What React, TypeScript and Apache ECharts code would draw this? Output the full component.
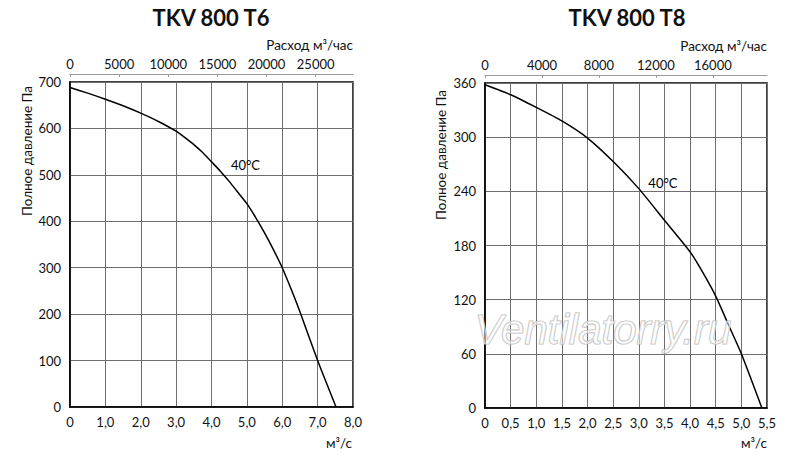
import { useEffect, useRef } from 'react';
import * as echarts from 'echarts';

// TKV 800 T6 (left) — flow m³/s vs total pressure Pa
const flowT6 = [0, 0.5, 1, 1.5, 2, 2.5, 3, 3.25, 3.5, 3.75, 4, 4.25, 4.5, 4.75, 5, 5.25, 5.5, 5.75, 6, 6.25, 6.5, 7, 7.52];
const pressT6 = [688, 676, 663, 649, 633, 615, 594, 580, 565, 548, 528, 508, 486, 462, 438, 408, 375, 339, 300, 254, 205, 100, 0];

// TKV 800 T8 (right)
const flowT8 = [0, 0.5, 1, 1.5, 2, 2.5, 3, 3.5, 4, 4.25, 4.5, 4.75, 5, 5.4];
const pressT8 = [358, 347, 333, 318, 299, 273, 243, 208, 173, 150, 124, 92, 60, 0];

const titles = ['TKV 800 T6', 'TKV 800 T8'];
const curveLabel = '40°C';
const labelT6: [number, number] = [4.96, 522];
const labelT8: [number, number] = [3.47, 249];

const FONT = 'Lato, "Open Sans", sans-serif';

const commaFmt = (v: number) => (v === 0 ? '0' : v.toFixed(1).replace('.', ','));

function zip(xs: number[], ys: number[]) {
  return xs.map((x, i) => [x, ys[i]]);
}

export default function App() {
  const ref = useRef<HTMLDivElement>(null);

  useEffect(() => {
    document.body.style.margin = '0';
    if (!ref.current) return;
    const chart = echarts.init(ref.current, undefined, { renderer: 'svg' });

    const gridLine = { lineStyle: { color: '#6e6e6e', width: 1 } };
    const tickText = { color: '#111', fontSize: 13, fontFamily: FONT };

    const bottomX = (gridIndex: number, max: number, interval: number) => ({
      type: 'value',
      gridIndex,
      position: 'bottom',
      min: 0,
      max,
      interval,
      axisLine: { lineStyle: { color: '#000', width: 1.5 } },
      axisTick: { show: false },
      axisLabel: { ...tickText, margin: 8, formatter: commaFmt },
      splitLine: { show: true, ...gridLine },
    });

    const topX = (gridIndex: number, max: number, interval: number) => ({
      type: 'value',
      gridIndex,
      position: 'top',
      offset: 8,
      min: 0,
      max,
      interval,
      axisLine: { show: true, lineStyle: { color: '#9a9a9a', width: 1 } },
      axisTick: { show: true, inside: true, length: 3, lineStyle: { color: '#9a9a9a' } },
      axisLabel: { ...tickText, margin: 4, showMaxLabel: false, formatter: (v: number) => String(v) },
      splitLine: { show: false },
    });

    const leftY = (gridIndex: number, max: number, interval: number) => ({
      type: 'value',
      gridIndex,
      min: 0,
      max,
      interval,
      axisLine: { show: true, lineStyle: { color: '#000', width: 1.5 } },
      axisTick: { show: false },
      axisLabel: { ...tickText, margin: 9 },
      splitLine: { show: true, ...gridLine },
    });

    const curve = (xAxisIndex: number, yAxisIndex: number, data: number[][], at: [number, number]) => ({
      type: 'line',
      xAxisIndex,
      yAxisIndex,
      data,
      smooth: 0.2,
      symbol: 'none',
      lineStyle: { color: '#000', width: 1.5 },
      markPoint: {
        symbol: 'circle',
        symbolSize: 1,
        itemStyle: { color: 'transparent' },
        label: {
          show: true,
          position: 'inside',
          formatter: curveLabel,
          color: '#000',
          fontSize: 13,
          fontFamily: FONT,
        },
        data: [{ coord: at }],
      },
    });

    const text = (x: number, y: number, t: string, extra: Record<string, unknown> = {}) => ({
      type: 'text',
      x,
      y,
      style: {
        text: t,
        fill: '#111',
        font: `13.5px ${FONT}`,
        align: 'center',
        verticalAlign: 'middle',
        ...extra,
      },
    });

    const vname = (x: number, y: number) => ({
      type: 'text',
      x,
      y,
      rotation: Math.PI / 2,
      style: { text: 'Полное давление Па', fill: '#111', font: `13.5px ${FONT}`, align: 'center', verticalAlign: 'middle' },
    });

    chart.setOption({
      animation: false,
      backgroundColor: '#fff',
      grid: [
        { left: 70, top: 82, width: 283, height: 325, show: true, borderColor: '#000', borderWidth: 1.5, backgroundColor: 'transparent' },
        { left: 485, top: 83, width: 282, height: 325, show: true, borderColor: '#000', borderWidth: 1.5, backgroundColor: 'transparent' },
      ],
      xAxis: [
        bottomX(0, 8, 1),
        topX(0, 28800, 5000),
        bottomX(1, 5.5, 0.5),
        topX(1, 19800, 4000),
      ],
      yAxis: [leftY(0, 700, 100), leftY(1, 360, 60)],
      series: [
        curve(0, 0, zip(flowT6, pressT6), labelT6),
        curve(2, 1, zip(flowT8, pressT8), labelT8),
      ],
      graphic: [
        text(211, 17, titles[0], { font: `bold 22px ${FONT}` }),
        text(627, 17, titles[1], { font: `bold 22px ${FONT}` }),
        text(353, 45, 'Расход м³/час', { align: 'right' }),
        text(767, 46, 'Расход м³/час', { align: 'right' }),
        text(352, 443, 'м³/с', { align: 'right' }),
        text(767, 443, 'м³/с', { align: 'right' }),
        vname(27, 151),
        vname(441, 155),
        {
          type: 'text',
          x: 603,
          y: 329,
          z: 10,
          style: {
            text: 'Ventilatorry.ru',
            fill: 'rgba(255,255,255,0.5)',
            stroke: '#bdbdbd',
            lineWidth: 1.2,
            lineHeight: 30,
            font: 'italic 42px "Liberation Sans", Arial, sans-serif',
            align: 'center',
            verticalAlign: 'middle',
          },
        },
      ],
    });

    return () => chart.dispose();
  }, []);

  return <div ref={ref} style={{ width: 800, height: 462 }} />;
}
